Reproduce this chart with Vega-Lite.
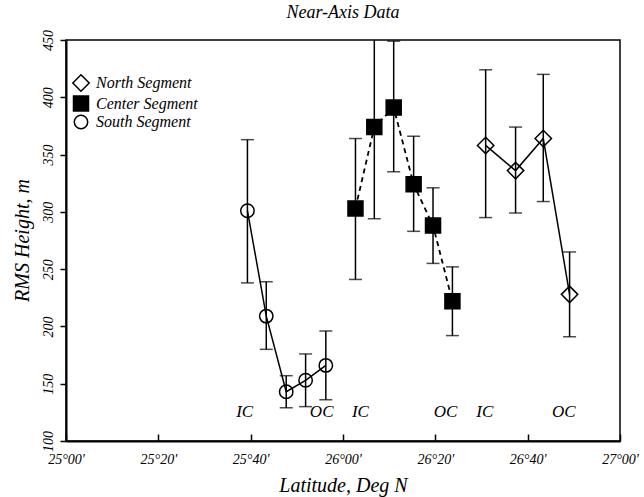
{
  "$schema": "https://vega.github.io/schema/vega-lite/v6.json",
  "width": 554,
  "height": 401,
  "autosize": {"type": "none"},
  "padding": {"left": 66, "top": 40, "right": 24, "bottom": 56},
  "background": "white",
  "config": {
    "font": "Liberation Serif",
    "view": {"stroke": "black", "strokeWidth": 1.5},
    "legend": {
      "title": null,
      "padding": 0,
      "rowPadding": -2,
      "labelOffset": 6,
      "labelFont": "Liberation Serif",
      "labelFontStyle": "italic",
      "labelFontSize": 16,
      "labelColor": "black",
      "symbolStrokeWidth": 1.5
    }
  },
  "title": {
    "text": "Near-Axis Data",
    "font": "Liberation Serif",
    "fontSize": 18,
    "fontStyle": "italic",
    "fontWeight": "normal",
    "color": "black",
    "anchor": "middle",
    "offset": 8
  },
  "datasets": {
    "points": [
      {"segment": "South Segment", "lat": 25.655, "rms": 301, "lo": 238, "hi": 363},
      {"segment": "South Segment", "lat": 25.723, "rms": 209, "lo": 180, "hi": 239},
      {"segment": "South Segment", "lat": 25.795, "rms": 143, "lo": 129, "hi": 157},
      {"segment": "South Segment", "lat": 25.865, "rms": 153, "lo": 130, "hi": 176},
      {"segment": "South Segment", "lat": 25.938, "rms": 166, "lo": 136, "hi": 196},
      {"segment": "Center Segment", "lat": 26.045, "rms": 303, "lo": 241, "hi": 364},
      {"segment": "Center Segment", "lat": 26.113, "rms": 374, "lo": 294, "hi": 458},
      {"segment": "Center Segment", "lat": 26.183, "rms": 391, "lo": 335, "hi": 449},
      {"segment": "Center Segment", "lat": 26.255, "rms": 324, "lo": 283, "hi": 366},
      {"segment": "Center Segment", "lat": 26.325, "rms": 288, "lo": 255, "hi": 321},
      {"segment": "Center Segment", "lat": 26.395, "rms": 222, "lo": 192, "hi": 252},
      {"segment": "North Segment", "lat": 26.515, "rms": 358, "lo": 295, "hi": 424},
      {"segment": "North Segment", "lat": 26.623, "rms": 336, "lo": 299, "hi": 374},
      {"segment": "North Segment", "lat": 26.723, "rms": 364, "lo": 309, "hi": 420},
      {"segment": "North Segment", "lat": 26.818, "rms": 228, "lo": 191, "hi": 265}
    ],
    "labels": [
      {"text": "IC", "lat": 25.645, "rms": 125},
      {"text": "OC", "lat": 25.923, "rms": 125},
      {"text": "IC", "lat": 26.063, "rms": 125},
      {"text": "OC", "lat": 26.37, "rms": 125},
      {"text": "IC", "lat": 26.512, "rms": 125},
      {"text": "OC", "lat": 26.797, "rms": 125}
    ]
  },
  "encoding": {
    "x": {
      "field": "lat",
      "type": "quantitative",
      "scale": {"domain": [25, 27], "nice": false, "zero": false},
      "axis": {
        "values": [25, 25.333333, 25.666667, 26, 26.333333, 26.666667, 27],
        "labelExpr": "floor(datum.value + 0.001) + '°' + (round((datum.value - floor(datum.value + 0.001)) * 60) < 10 ? '0' : '') + round((datum.value - floor(datum.value + 0.001)) * 60) + \"'\"",
        "grid": false,
        "domainColor": "black",
        "domainWidth": 2,
        "tickColor": "black",
        "tickWidth": 1.5,
        "tickSize": -7,
        "labelPadding": 18,
        "labelFlush": false,
        "labelFont": "Liberation Serif",
        "labelFontStyle": "italic",
        "labelFontSize": 14,
        "labelColor": "black",
        "title": "Latitude, Deg N",
        "titleFont": "Liberation Serif",
        "titleFontStyle": "italic",
        "titleFontWeight": "normal",
        "titleFontSize": 20,
        "titleColor": "black",
        "titleX": 277,
        "titleY": 44,
        "titleBaseline": "middle",
        "titleAlign": "center"
      }
    },
    "y": {
      "field": "rms",
      "type": "quantitative",
      "scale": {"domain": [100, 450], "nice": false, "zero": false},
      "axis": {
        "values": [100, 150, 200, 250, 300, 350, 400, 450],
        "grid": false,
        "domainColor": "black",
        "domainWidth": 2,
        "tickColor": "black",
        "tickWidth": 1.5,
        "tickSize": 6,
        "labelPadding": 5,
        "labelAngle": 270,
        "labelAlign": "center",
        "labelBaseline": "bottom",
        "labelFont": "Liberation Serif",
        "labelFontStyle": "italic",
        "labelFontSize": 14,
        "labelColor": "black",
        "title": "RMS Height, m",
        "titleFont": "Liberation Serif",
        "titleFontStyle": "italic",
        "titleFontWeight": "normal",
        "titleFontSize": 20,
        "titleColor": "black",
        "titleX": -44,
        "titleY": 200,
        "titleAngle": 270,
        "titleBaseline": "middle",
        "titleAlign": "center"
      }
    }
  },
  "layer": [
    {
      "data": {"name": "points"},
      "mark": {"type": "rule", "color": "black", "strokeWidth": 1.5, "clip": true},
      "encoding": {
        "y": {"field": "lo", "type": "quantitative"},
        "y2": {"field": "hi"}
      }
    },
    {
      "data": {"name": "points"},
      "mark": {"type": "tick", "orient": "horizontal", "size": 13, "thickness": 1.5, "color": "black", "clip": true},
      "encoding": {"y": {"field": "lo", "type": "quantitative"}}
    },
    {
      "data": {"name": "points"},
      "mark": {"type": "tick", "orient": "horizontal", "size": 13, "thickness": 1.5, "color": "black", "clip": true},
      "encoding": {"y": {"field": "hi", "type": "quantitative"}}
    },
    {
      "data": {"name": "points"},
      "transform": [{"filter": "datum.segment !== 'Center Segment'"}],
      "mark": {"type": "line", "color": "black", "strokeWidth": 1.5},
      "encoding": {"detail": {"field": "segment", "type": "nominal"}}
    },
    {
      "data": {"name": "points"},
      "transform": [{"filter": "datum.segment === 'Center Segment'"}],
      "mark": {"type": "line", "color": "black", "strokeWidth": 1.8, "strokeDash": [5, 4]},
      "encoding": {}
    },
    {
      "data": {"name": "points"},
      "mark": {"type": "point", "filled": true, "strokeWidth": 1.5, "opacity": 1},
      "encoding": {
        "shape": {
          "field": "segment",
          "type": "nominal",
          "scale": {"domain": ["North Segment", "Center Segment", "South Segment"], "range": ["diamond", "square", "circle"]},
          "legend": {"orient": "none", "legendX": 6, "legendY": 34}
        },
        "fill": {
          "field": "segment",
          "type": "nominal",
          "scale": {"domain": ["North Segment", "Center Segment", "South Segment"], "range": ["transparent", "black", "transparent"]},
          "legend": {"orient": "none", "legendX": 6, "legendY": 34}
        },
        "stroke": {
          "field": "segment",
          "type": "nominal",
          "scale": {"domain": ["North Segment", "Center Segment", "South Segment"], "range": ["black", "black", "black"]},
          "legend": {"orient": "none", "legendX": 6, "legendY": 34}
        },
        "size": {
          "field": "segment",
          "type": "nominal",
          "scale": {"domain": ["North Segment", "Center Segment", "South Segment"], "range": [270, 180, 150]},
          "legend": {"orient": "none", "legendX": 6, "legendY": 34}
        }
      }
    },
    {
      "data": {"name": "labels"},
      "mark": {"type": "text", "font": "Liberation Serif", "fontStyle": "italic", "fontSize": 17, "color": "black", "baseline": "middle"},
      "encoding": {"text": {"field": "text", "type": "nominal"}}
    }
  ]
}
